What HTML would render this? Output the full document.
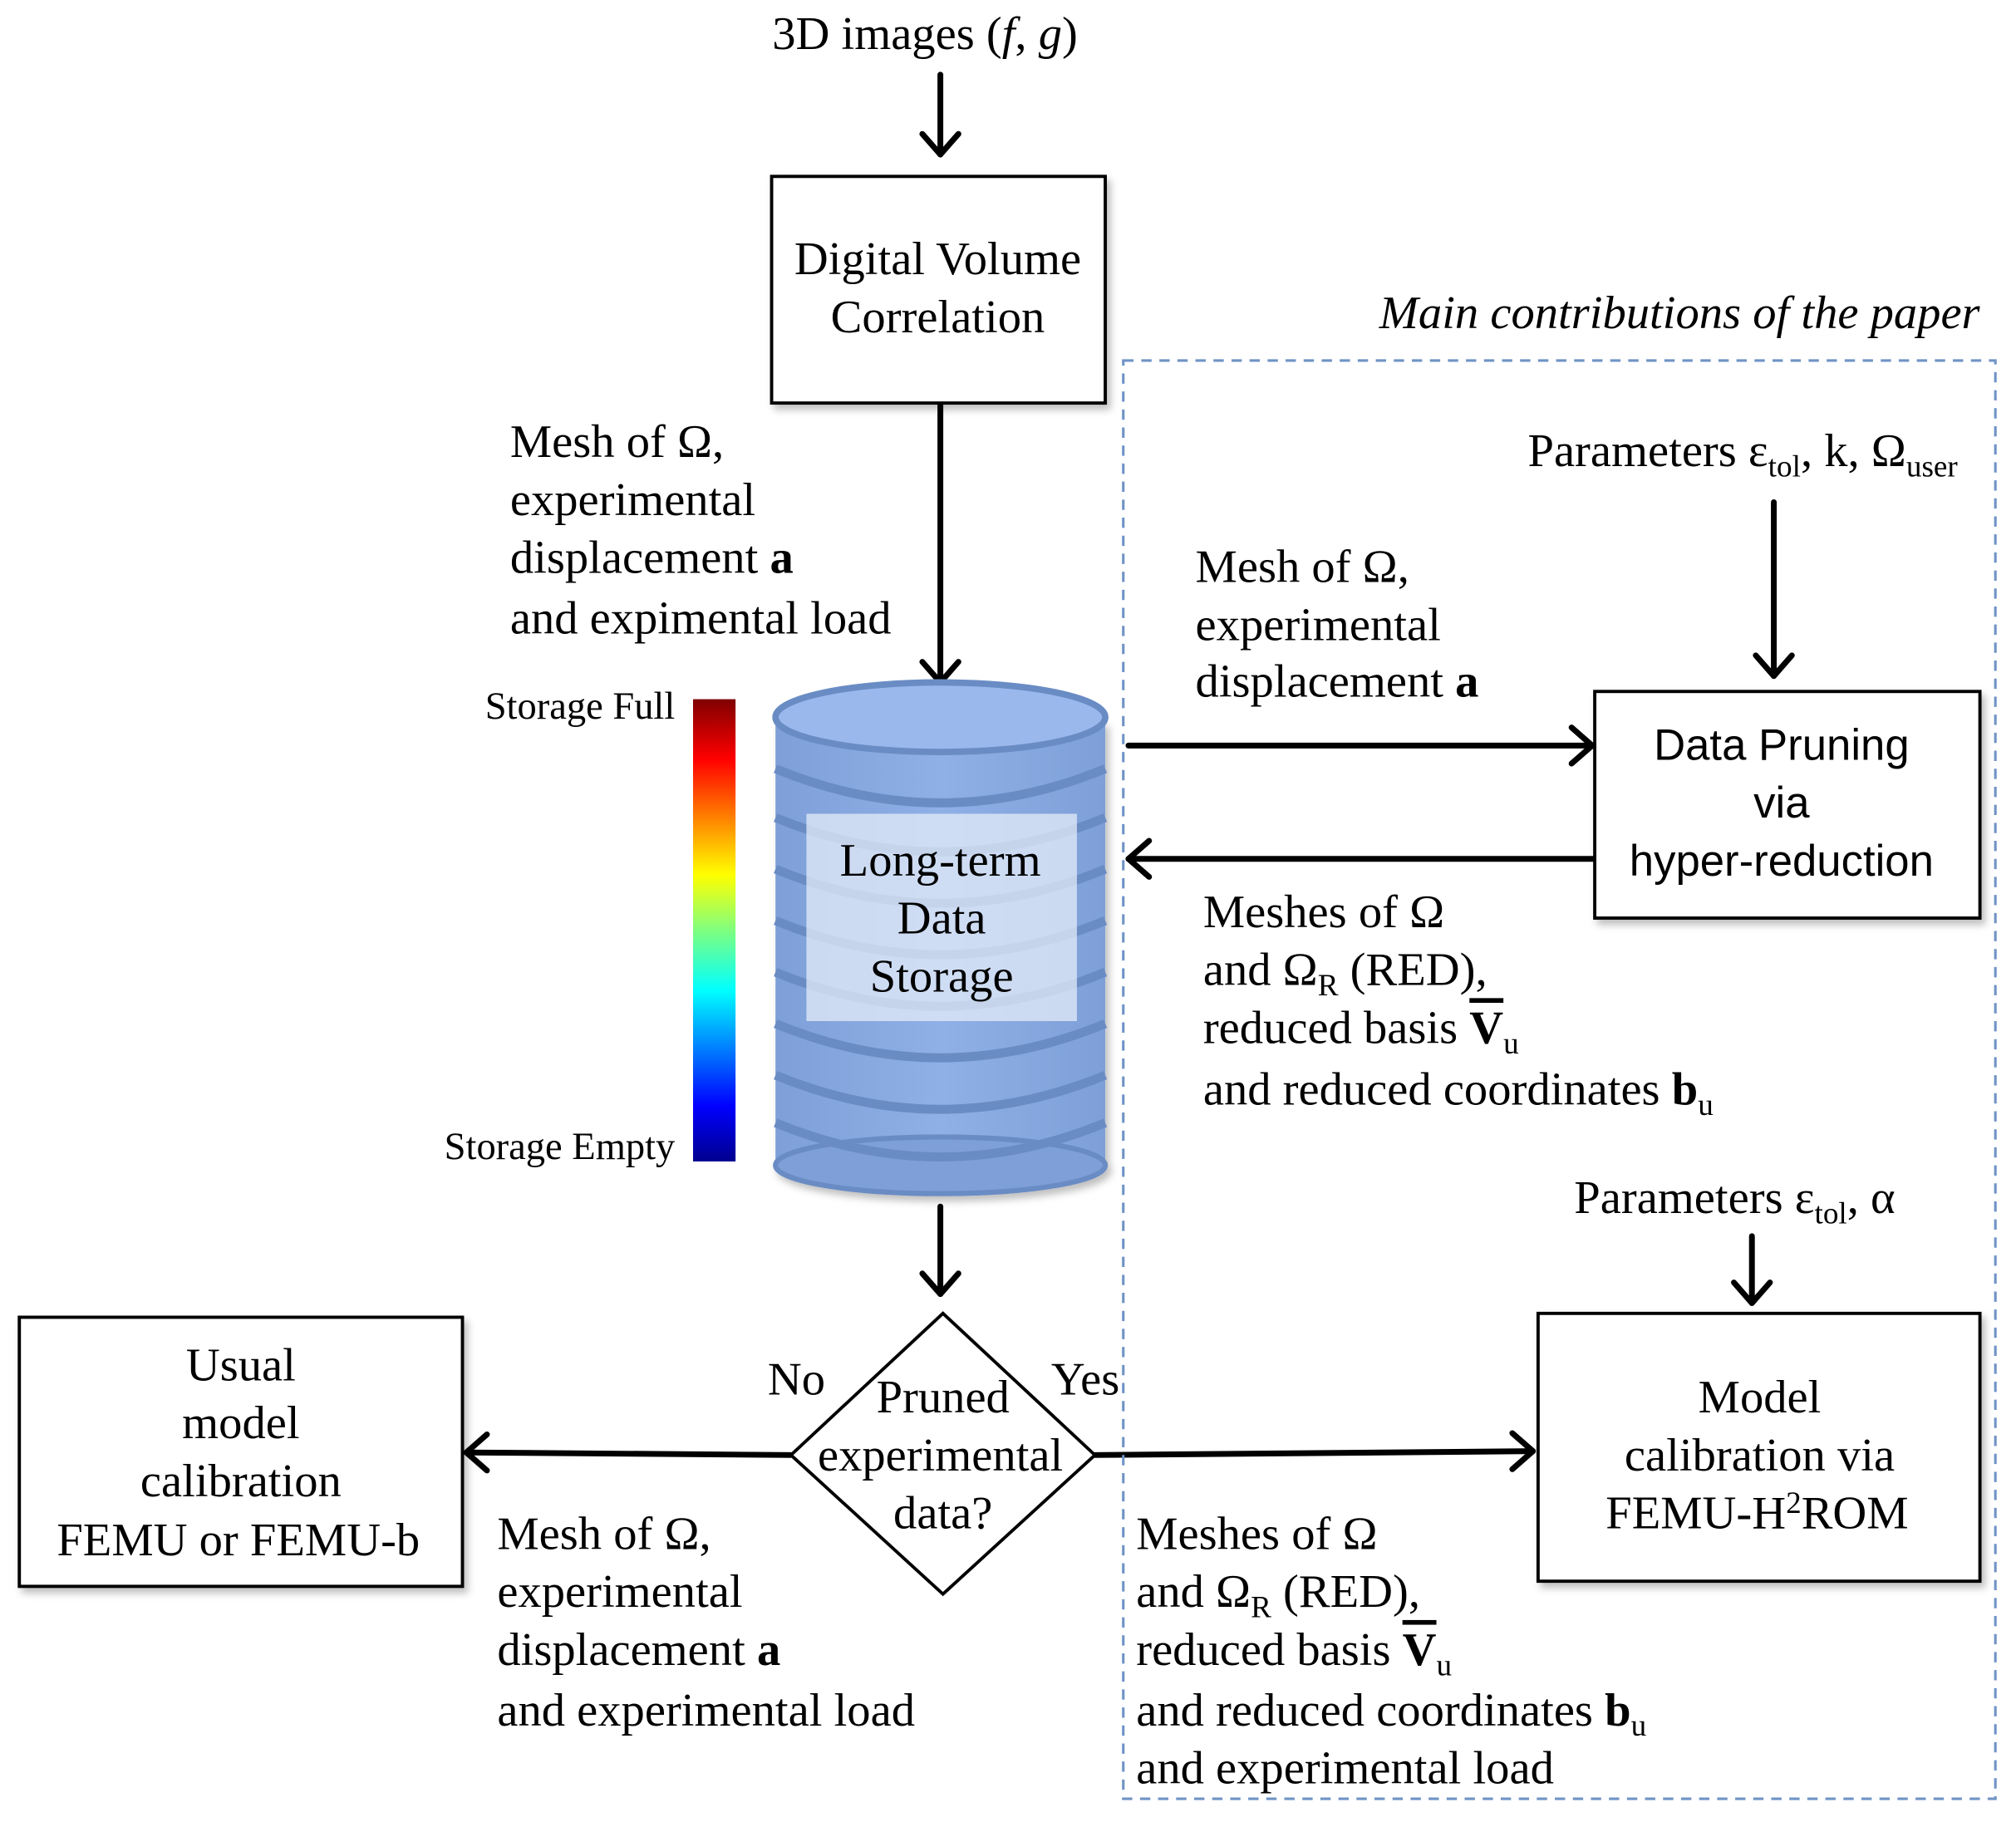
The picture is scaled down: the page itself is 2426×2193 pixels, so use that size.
<!DOCTYPE html>
<html><head><meta charset="utf-8"><style>
html,body{margin:0;padding:0;background:#fff;}
svg{display:block;}
text{font-family:"Liberation Serif","DejaVu Serif",serif;font-size:36.5px;fill:#000;}
.s{font-family:"Liberation Sans","DejaVu Sans",sans-serif;font-size:34px;}
.sm{font-size:30px;}
.sub{font-size:24px;}
.ov{text-decoration:overline;}
</style></head><body>
<svg width="2426" height="2193" viewBox="0 0 1565 1415" preserveAspectRatio="none" xmlns="http://www.w3.org/2000/svg">
<defs>
<linearGradient id="cb" x1="0" y1="1" x2="0" y2="0">
<stop offset="0" stop-color="#00008f"/><stop offset="0.12" stop-color="#0000ff"/><stop offset="0.37" stop-color="#00ffff"/><stop offset="0.5" stop-color="#7fff7f"/><stop offset="0.62" stop-color="#ffff00"/><stop offset="0.87" stop-color="#ff0000"/><stop offset="1" stop-color="#800000"/>
</linearGradient>
<linearGradient id="cyl" x1="0" y1="0" x2="1" y2="0">
<stop offset="0" stop-color="#7e9fd8"/><stop offset="0.5" stop-color="#8fb0e6"/><stop offset="1" stop-color="#7e9fd8"/>
</linearGradient>
<filter id="sh" x="-10%" y="-10%" width="130%" height="130%"><feDropShadow dx="3" dy="4" stdDeviation="3" flood-color="#000" flood-opacity="0.25"/></filter>
</defs>
<g stroke="#000" stroke-width="4.5" fill="none" stroke-linecap="round" stroke-linejoin="round">
<line x1="730" y1="58" x2="730" y2="120"/><polyline points="716,104 730,120 744,104"/>
<line x1="730" y1="313" x2="730" y2="530"/><polyline points="716,514 730,530 744,514"/>
<line x1="1377" y1="390" x2="1377" y2="525"/><polyline points="1363,509 1377,525 1391,509"/>
<line x1="876" y1="579" x2="1236" y2="579"/><polyline points="1220,565 1236,579 1220,593"/>
<line x1="1238" y1="667" x2="876" y2="667"/><polyline points="892,653 876,667 892,681"/>
<line x1="1360" y1="960" x2="1360" y2="1012"/><polyline points="1346,996 1360,1012 1374,996"/>
<line x1="730" y1="937" x2="730" y2="1005"/><polyline points="716,989 730,1005 744,989"/>
<line x1="614" y1="1130" x2="362" y2="1128"/><polyline points="378,1114 362,1128 378,1142"/>
<line x1="850" y1="1130" x2="1190" y2="1127"/><polyline points="1174,1113 1190,1127 1174,1141"/>
</g>
<rect x="599" y="137" width="259" height="176" fill="#fff" stroke="#000" stroke-width="2.5" filter="url(#sh)"/>
<rect x="1238" y="537" width="299" height="176" fill="#fff" stroke="#000" stroke-width="2.5" filter="url(#sh)"/>
<rect x="1194" y="1020" width="343" height="208" fill="#fff" stroke="#000" stroke-width="2.5" filter="url(#sh)"/>
<rect x="15" y="1023" width="344" height="209" fill="#fff" stroke="#000" stroke-width="2.5" filter="url(#sh)"/>
<polygon points="732,1020 850,1130 732,1238 614,1130" fill="#fff" stroke="#000" stroke-width="2.5"/>
<rect x="872" y="280" width="677" height="1117" fill="none" stroke="#6f93c6" stroke-width="2" stroke-dasharray="8,6"/>
<rect x="538" y="543" width="33" height="359" fill="url(#cb)"/>
<g filter="url(#sh)">
<rect x="602" y="560" width="256" height="345" fill="url(#cyl)"/>
<ellipse cx="730" cy="905" rx="128" ry="22" fill="#7e9fd8" stroke="#6a8cc4" stroke-width="4"/>
</g>
<g fill="none" stroke="#6a8cc4" stroke-width="7">
<path d="M602,597 Q730,650 858,597"/>
<path d="M602,635 Q730,688 858,635"/>
<path d="M602,675 Q730,728 858,675"/>
<path d="M602,715 Q730,768 858,715"/>
<path d="M602,755 Q730,808 858,755"/>
<path d="M602,795 Q730,848 858,795"/>
<path d="M602,835 Q730,888 858,835"/>
<path d="M602,872 Q730,925 858,872"/>
</g>
<ellipse cx="730" cy="557" rx="128" ry="27" fill="#9ab8ec" stroke="#6a8cc4" stroke-width="5"/>
<rect x="626" y="632" width="210" height="161" fill="#e4ecf8" fill-opacity="0.75"/>
<text x="718" y="38" text-anchor="middle">3D images (<tspan font-style="italic">f</tspan>, <tspan font-style="italic">g</tspan>)</text>
<text x="728" y="213" text-anchor="middle">Digital Volume</text>
<text x="728" y="258" text-anchor="middle">Correlation</text>
<text x="396" y="355">Mesh of Ω,</text>
<text x="396" y="400">experimental</text>
<text x="396" y="445">displacement <tspan font-weight="bold">a</tspan></text>
<text x="396" y="492">and expimental load</text>
<text class="sm" x="524" y="558" text-anchor="end">Storage Full</text>
<text class="sm" x="524" y="900" text-anchor="end">Storage Empty</text>
<text x="730" y="680" text-anchor="middle">Long-term</text>
<text x="731" y="725" text-anchor="middle">Data</text>
<text x="731" y="770" text-anchor="middle">Storage</text>
<text x="1537" y="255" text-anchor="end" font-style="italic">Main contributions of the paper</text>
<text x="1186" y="362">Parameters ε<tspan class="sub" dy="8">tol</tspan><tspan dy="-8">, k, Ω</tspan><tspan class="sub" dy="8">user</tspan></text>
<text x="928" y="452">Mesh of Ω,</text>
<text x="928" y="497">experimental</text>
<text x="928" y="541">displacement <tspan font-weight="bold">a</tspan></text>
<text class="s" x="1383" y="590" text-anchor="middle">Data Pruning</text>
<text class="s" x="1383" y="635" text-anchor="middle">via</text>
<text class="s" x="1383" y="680" text-anchor="middle">hyper-reduction</text>
<text x="934" y="720">Meshes of Ω</text>
<text x="934" y="765">and Ω<tspan class="sub" dy="8">R</tspan><tspan dy="-8"> (RED),</tspan></text>
<text x="934" y="810">reduced basis <tspan font-weight="bold" class="ov">V</tspan><tspan class="sub" dy="8">u</tspan></text>
<text x="934" y="858">and reduced coordinates <tspan font-weight="bold">b</tspan><tspan class="sub" dy="8">u</tspan></text>
<text x="1222" y="942">Parameters ε<tspan class="sub" dy="8">tol</tspan><tspan dy="-8">, α</tspan></text>
<text x="1366" y="1097" text-anchor="middle">Model</text>
<text x="1366" y="1142" text-anchor="middle">calibration via</text>
<text x="1364" y="1187" text-anchor="middle">FEMU-H<tspan class="sub" dy="-12">2</tspan><tspan dy="12">ROM</tspan></text>
<text x="732" y="1097" text-anchor="middle">Pruned</text>
<text x="730" y="1142" text-anchor="middle">experimental</text>
<text x="732" y="1187" text-anchor="middle">data?</text>
<text x="596" y="1083">No</text>
<text x="816" y="1083">Yes</text>
<text x="187" y="1072" text-anchor="middle">Usual</text>
<text x="187" y="1117" text-anchor="middle">model</text>
<text x="187" y="1162" text-anchor="middle">calibration</text>
<text x="185" y="1208" text-anchor="middle">FEMU or FEMU-b</text>
<text x="386" y="1203">Mesh of Ω,</text>
<text x="386" y="1248">experimental</text>
<text x="386" y="1293">displacement <tspan font-weight="bold">a</tspan></text>
<text x="386" y="1340">and experimental load</text>
<text x="882" y="1203">Meshes of Ω</text>
<text x="882" y="1248">and Ω<tspan class="sub" dy="8">R</tspan><tspan dy="-8"> (RED),</tspan></text>
<text x="882" y="1293">reduced basis <tspan font-weight="bold" class="ov">V</tspan><tspan class="sub" dy="8">u</tspan></text>
<text x="882" y="1340">and reduced coordinates <tspan font-weight="bold">b</tspan><tspan class="sub" dy="8">u</tspan></text>
<text x="882" y="1385">and experimental load</text>
</svg>
</body></html>
